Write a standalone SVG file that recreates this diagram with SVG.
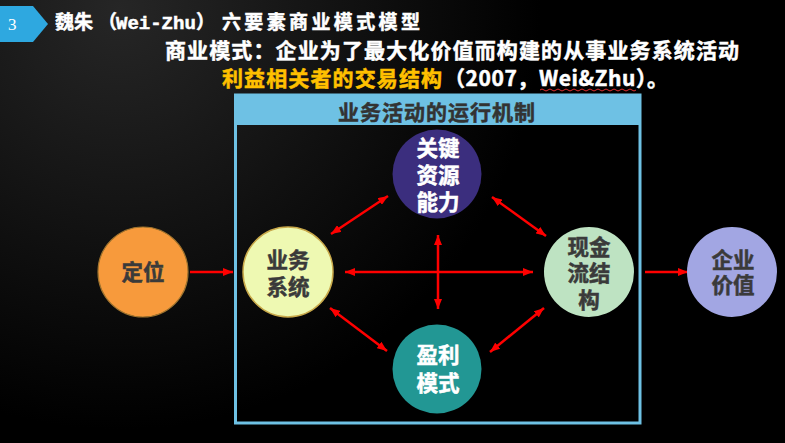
<svg xmlns="http://www.w3.org/2000/svg" width="785" height="443" viewBox="0 0 785 443">
  <defs>
    <radialGradient id="bgGlow" cx="120" cy="10" r="420" gradientUnits="userSpaceOnUse">
      <stop offset="0" stop-color="#262626"/>
      <stop offset="1" stop-color="#000000"/>
    </radialGradient>
    <marker id="arrowHead" viewBox="0 0 10 8" refX="10" refY="4" markerWidth="10" markerHeight="8" markerUnits="userSpaceOnUse" orient="auto-start-reverse">
      <path d="M0,0 L10,4 L0,8 z" fill="#FF0000"/>
    </marker>
    <style>
      .cjk { font-family: "Noto Sans CJK SC", "Noto Sans", sans-serif; font-weight: bold; stroke-width: 0.5; }
      .title { fill: #FFFFFF; stroke: #FFFFFF; font-size: 19px; }
      .sub { fill: #FFFFFF; stroke: #FFFFFF; font-size: 21px; }
      .hl { fill: #FFC000; stroke: #FFC000; }
      .node-dark { fill: #3A3A3A; stroke: #3A3A3A; font-size: 21.5px; text-anchor: middle; }
      .node-light { fill: #FFFFFF; stroke: #FFFFFF; font-size: 21.5px; text-anchor: middle; }
      .conn { stroke: #FF0000; stroke-width: 2.5; fill: none; }
    </style>
  </defs>

  <!-- background -->
  <rect x="0" y="0" width="785" height="443" fill="#000000"/>
  <rect x="0" y="0" width="785" height="443" fill="url(#bgGlow)"/>

  <!-- page badge -->
  <g id="badge">
    <polygon points="0,6 33,6 48,24 33,42 0,42" fill="#2EA8E0"/>
    <text x="8" y="30" font-family="Liberation Serif, serif" font-size="17" fill="#FFFFFF">3</text>
  </g>

  <!-- heading lines -->
  <g id="heading">
    <text class="cjk title" y="29">
      <tspan x="55">魏朱</tspan><tspan x="98">（</tspan><tspan x="116" font-family="Liberation Mono, monospace" font-size="19">Wei-Zhu</tspan><tspan x="196">）</tspan><tspan x="222" textLength="198" lengthAdjust="spacing">六要素商业模式模型</tspan>
    </text>
    <text class="cjk sub" x="165" y="58" textLength="574" lengthAdjust="spacing">商业模式：企业为了最大化价值而构建的从事业务系统活动</text>
    <text class="cjk sub" y="86">
      <tspan x="222" class="hl" textLength="220" lengthAdjust="spacing">利益相关者的交易结构</tspan><tspan x="444" textLength="224" lengthAdjust="spacing">（2007，Wei&amp;Zhu）。</tspan>
    </text>
    <path d="M540,90 q2,-2 4,0 t4,0 t4,0 t4,0 t4,0 t4,0 t4,0 t4,0 t4,0 t4,0 t4,0 t4,0 t4,0 t4,0 t4,0 t4,0 t4,0 t4,0 t4,0 t4,0 t4,0 t4,0 t4,0 t4,0" stroke="#E03030" stroke-width="1" fill="none"/>
  </g>

  <!-- mechanism frame -->
  <g id="frame">
    <rect x="235" y="94" width="405" height="31" fill="#6EC1E4"/>
    <rect x="235.5" y="95" width="404.5" height="328" fill="none" stroke="#6EC1E4" stroke-width="3"/>
    <text class="cjk" x="338" y="120" font-size="21" fill="#333333" stroke="#333333" textLength="197" lengthAdjust="spacing">业务活动的运行机制</text>
  </g>

  <!-- connectors -->
  <g id="connectors">
    <line class="conn" x1="190" y1="272" x2="233" y2="272" marker-end="url(#arrowHead)"/>
    <line class="conn" x1="645" y1="272" x2="688" y2="272" marker-end="url(#arrowHead)"/>
    <line class="conn" x1="345" y1="272" x2="533" y2="272" marker-start="url(#arrowHead)" marker-end="url(#arrowHead)"/>
    <line class="conn" x1="438" y1="235" x2="438" y2="309" marker-start="url(#arrowHead)" marker-end="url(#arrowHead)"/>
    <line class="conn" x1="331" y1="234" x2="388" y2="196" marker-start="url(#arrowHead)" marker-end="url(#arrowHead)"/>
    <line class="conn" x1="492" y1="197" x2="546" y2="236" marker-start="url(#arrowHead)" marker-end="url(#arrowHead)"/>
    <line class="conn" x1="330" y1="308" x2="387" y2="351" marker-start="url(#arrowHead)" marker-end="url(#arrowHead)"/>
    <line class="conn" x1="490" y1="352" x2="544" y2="308" marker-start="url(#arrowHead)" marker-end="url(#arrowHead)"/>
  </g>

  <!-- nodes -->
  <g id="node-positioning">
    <circle cx="143" cy="272" r="45" fill="#F79A3C" stroke="#A0742E" stroke-width="1.2"/>
    <text class="cjk node-dark" x="143" y="280">定位</text>
  </g>

  <g id="node-business-system">
    <circle cx="288" cy="272" r="45" fill="#EEF9B2" stroke="#C9A94A" stroke-width="1.5"/>
    <text class="cjk node-dark" x="288" y="268">业务</text>
    <text class="cjk node-dark" x="288" y="295">系统</text>
  </g>

  <g id="node-key-resources">
    <circle cx="437" cy="174" r="44.5" fill="#3B2E7E"/>
    <text class="cjk node-light" x="438" y="156">关键</text>
    <text class="cjk node-light" x="438" y="183">资源</text>
    <text class="cjk node-light" x="438" y="210">能力</text>
  </g>

  <g id="node-cash-flow">
    <circle cx="589" cy="272" r="45" fill="#BEE3C2"/>
    <text class="cjk node-dark" x="589" y="255">现金</text>
    <text class="cjk node-dark" x="589" y="281">流结</text>
    <text class="cjk node-dark" x="589" y="308">构</text>
  </g>

  <g id="node-enterprise-value">
    <circle cx="732" cy="272" r="45" fill="#A2A6E3"/>
    <text class="cjk node-dark" x="733" y="268">企业</text>
    <text class="cjk node-dark" x="733" y="293">价值</text>
  </g>

  <g id="node-profit-model">
    <circle cx="437" cy="369" r="44.5" fill="#229794"/>
    <text class="cjk node-light" x="438" y="363">盈利</text>
    <text class="cjk node-light" x="438" y="391">模式</text>
  </g>
</svg>
